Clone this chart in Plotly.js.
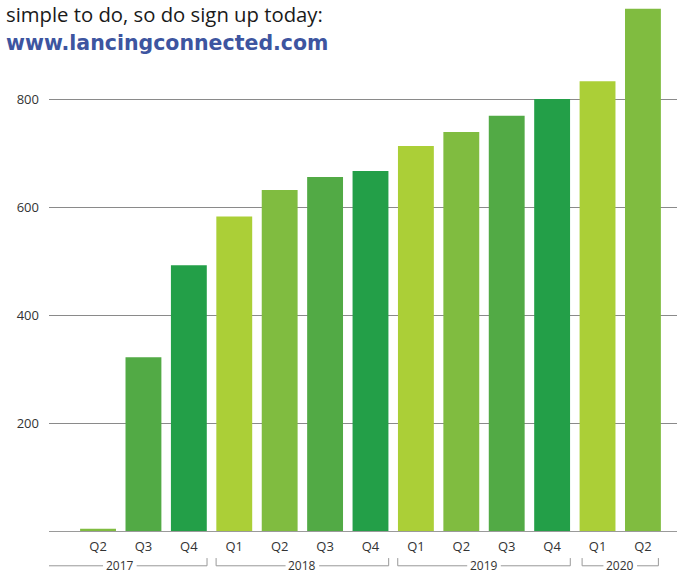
<!DOCTYPE html>
<html>
<head>
<meta charset="utf-8">
<script src="https://cdn.plot.ly/plotly-3.0.1.min.js"></script>
<style>html,body{margin:0;padding:0;background:#fff;}#chart{width:683px;height:573px;}</style>
</head>
<body>
<div id="chart"></div>
<script>
var quarters = ["Q2","Q3","Q4","Q1","Q2","Q3","Q4","Q1","Q2","Q3","Q4","Q1","Q2"];
var years = ["2017","2017","2017","2018","2018","2018","2018","2019","2019","2019","2019","2020","2020"];
var values = [6, 323, 493, 583, 632, 656, 667, 713, 739, 769, 800, 833, 967];
var yTicks = [200, 400, 600, 800];
var yearGroups = ["2017","2018","2019","2020"];
var quarterColors = {Q1:"#abcf37", Q2:"#80bc40", Q3:"#52aa45", Q4:"#239f48"};

var xIdx = quarters.map(function(q,i){return i;});
var colors = quarters.map(function(q){return quarterColors[q];});

var trace = {
  type: "bar",
  x: xIdx,
  y: values,
  marker: {color: colors, line: {width: 0}},
  hoverinfo: "y"
};

var FONT = "'Open Sans', sans-serif";
var xMin = -1.08, xMax = 12.75;
var shapes = [];
var annotations = [];
var bw = 0.4;
var gapHalf = 0.37;

// baseline
shapes.push({type:"line", xref:"x", yref:"y", x0:xMin, x1:xMax, y0:0, y1:0, line:{color:"#9a9a9a", width:2}});

// year brackets
yearGroups.forEach(function(yr, gi){
  var idx = [];
  years.forEach(function(y,i){ if(y===yr) idx.push(i); });
  var a = idx[0] - bw, b = idx[idx.length-1] + bw;
  if (gi === 0) a = xMin;
  if (gi === yearGroups.length-1) { a += 0.06; b -= 0.06; }
  var c = (a+b)/2;
  if (gi === 0) c -= 0.18;
  var yl = -0.0635, yt = -0.049;
  shapes.push({type:"line", xref:"x", yref:"paper", x0:a, x1:c-gapHalf, y0:yl, y1:yl, line:{color:"#999", width:1}});
  shapes.push({type:"line", xref:"x", yref:"paper", x0:c+gapHalf, x1:b, y0:yl, y1:yl, line:{color:"#999", width:1}});
  if (gi !== 0) shapes.push({type:"line", xref:"x", yref:"paper", x0:a, x1:a, y0:yl, y1:yt, line:{color:"#999", width:1}});
  shapes.push({type:"line", xref:"x", yref:"paper", x0:b, x1:b, y0:yl, y1:yt, line:{color:"#999", width:1}});
  annotations.push({xref:"x", yref:"paper", x:c, y:yl, text:yr, showarrow:false,
    font:{family:FONT, size:12, color:"#333"}, xanchor:"center", yanchor:"middle"});
});

annotations.push({xref:"paper", yref:"paper", x:-0.072, y:0.974, xanchor:"left", yanchor:"middle", showarrow:false,
  text:"simple to do, so do sign up today:", font:{family:FONT, size:20.3, color:"#1a1a1a"}});
annotations.push({xref:"paper", yref:"paper", x:-0.072, y:0.919, xanchor:"left", yanchor:"middle", showarrow:false,
  text:"<b>www.lancingconnected.com</b>", font:{family:"'DejaVu Sans', sans-serif", size:20.5, color:"#3d55a0"}});

var layout = {
  width: 683, height: 573,
  margin: {l:49, r:6, t:0, b:41, pad:0},
  paper_bgcolor: "#fff", plot_bgcolor: "#fff",
  showlegend: false,
  bargap: 0.21,
  xaxis: {
    range: [xMin, xMax],
    tickmode: "array",
    tickvals: xIdx,
    ticktext: quarters,
    showgrid: false, zeroline: false, showline: false,
    ticks: "",
    ticklabelstandoff: 5,
    tickfont: {family:FONT, size:13, color:"#333"},
    fixedrange: true
  },
  yaxis: {
    range: [0, 983],
    tickmode: "array",
    tickvals: yTicks,
    showgrid: true, gridcolor: "#8a8a8a", gridwidth: 1,
    zeroline: false, showline: false,
    ticks: "",
    ticklabelstandoff: 9,
    tickfont: {family:FONT, size:13, color:"#333"},
    fixedrange: true
  },
  shapes: shapes,
  annotations: annotations
};

Plotly.newPlot("chart", [trace], layout, {displayModeBar:false, staticPlot:true});
</script>
</body>
</html>
